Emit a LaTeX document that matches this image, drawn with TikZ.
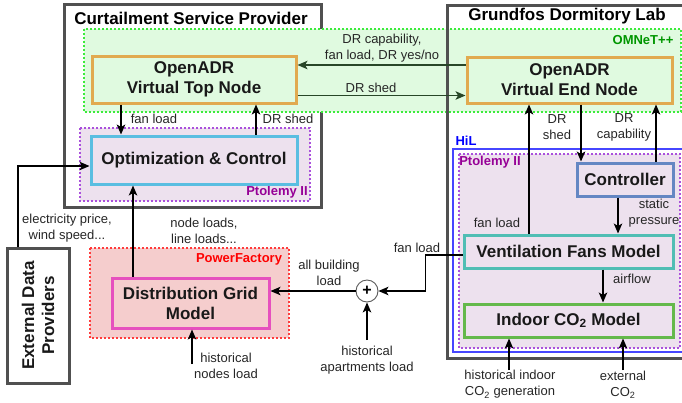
\documentclass[tikz,border=0pt]{standalone}
\usepackage{fontspec}
\setmainfont{Liberation Sans}
\usetikzlibrary{arrows.meta}

\definecolor{omnetfill}{RGB}{224,250,224}
\definecolor{omnetline}{RGB}{60,235,60}
\definecolor{omnettext}{RGB}{0,150,0}
\definecolor{omnetarrow}{RGB}{40,70,40}
\definecolor{adrline}{RGB}{225,170,80}
\definecolor{ptolfill}{RGB}{237,225,238}
\definecolor{ptolline}{RGB}{170,80,220}
\definecolor{ptoltext}{RGB}{150,0,150}
\definecolor{optline}{RGB}{90,190,225}
\definecolor{pffill}{RGB}{245,205,205}
\definecolor{pfline}{RGB}{255,60,60}
\definecolor{gridline}{RGB}{230,80,190}
\definecolor{hilline}{RGB}{70,70,255}
\definecolor{ctrlline}{RGB}{100,135,195}
\definecolor{fanline}{RGB}{80,190,180}
\definecolor{coline}{RGB}{100,185,75}
\definecolor{frame}{RGB}{80,80,80}

\begin{document}
\begin{tikzpicture}[x=1pt,y=-1pt,>={Stealth[length=10pt,width=8.5pt,inset=2.5pt]}]
  \tikzstyle{outerbox}=[draw=frame,line width=3pt]
  \tikzstyle{region}=[line width=2pt,dash pattern=on 2pt off 2pt]
  \tikzstyle{block}=[rectangle,line width=3pt,align=center,inner sep=0pt,text=black!90,font=\fontsize{17}{20}\selectfont\bfseries]
  \tikzstyle{header}=[font=\fontsize{17}{20}\selectfont\bfseries]
  \tikzstyle{toolname}=[font=\fontsize{13}{16}\selectfont\bfseries]
  \tikzstyle{note}=[align=center,inner sep=0pt,text=black!85,font=\fontsize{13}{16}\selectfont]
  \tikzstyle{conn}=[draw,->,line width=1.2pt]
  \useasboundingbox (0,0) rectangle (682,402);
  \clip (0,0) rectangle (682,402);
  % frames and tool layers
  \draw[outerbox] (64,4) rectangle (321,207);
  \draw[region,draw=omnetline,fill=omnetfill] (84,29) rectangle (681,112);
  \draw[outerbox] (447,5) rectangle (700,358);
  \draw[region,draw=ptolline,fill=ptolfill] (80,128) rectangle (310,201);
  \draw[region,draw=pfline,fill=pffill] (90,248) rectangle (289,338);
  \draw[draw=hilline,line width=2pt] (453,149) rectangle (700,352);
  \draw[region,draw=ptolline,fill=ptolfill] (459,154) rectangle (680,348);
  % headers
  \node[header] (csp) at (191,18) {Curtailment Service Provider};
  \node[header] (lab) at (567,16) {Grundfos Dormitory Lab};
  \node[toolname,text=omnettext] (omnet) at (643,40) {OMNeT++};
  \node[toolname,text=ptoltext] (ptolcsp) at (277,192) {Ptolemy II};
  \node[toolname,text=red] (pf) at (239,259) {PowerFactory};
  \node[toolname,text=blue] (hil) at (466,141) {HiL};
  \node[toolname,text=ptoltext] (ptollab) at (490,162) {Ptolemy II};
  % blocks
  \node[block,draw=adrline,fill=omnetfill,minimum width=204pt,minimum height=47pt] (top) at (194,79.5) {OpenADR\\Virtual Top Node};
  \node[block,draw=adrline,fill=omnetfill,minimum width=205pt,minimum height=46pt] (end) at (569.5,80) {OpenADR\\Virtual End Node};
  \node[block,draw=optline,fill=ptolfill,minimum width=206pt,minimum height=48pt] (opt) at (194,160) {Optimization \& Control};
  \node[block,draw=frame,fill=white,rotate=90,minimum width=135pt,minimum height=62pt] (ext) at (38,315.5) {External Data\\Providers};
  \node[block,draw=gridline,fill=pffill,minimum width=157pt,minimum height=50pt] (grid) at (190.5,303) {Distribution Grid\\Model};
  \node[circle,draw=black!65,line width=0.9pt,minimum size=22pt,inner sep=0pt,font=\fontsize{16}{16}\selectfont\bfseries] (sum) at (367,291) {+};
  \node[block,draw=ctrlline,fill=ptolfill,minimum width=96pt,minimum height=33pt] (ctrl) at (625,179.5) {Controller};
  \node[block,draw=fanline,fill=ptolfill,minimum width=209pt,minimum height=33pt] (fans) at (568.5,251.5) {Ventilation Fans Model};
  \node[block,draw=coline,fill=ptolfill,minimum width=209pt,minimum height=33pt] (indoor) at (568.5,320.5) {Indoor CO\textsubscript{2} Model};
  % labels
  \node[note] (capnote) at (382,48) {DR capability,\\fan load, DR yes/no};
  \node[note] (shednote) at (371,88) {DR shed};
  \node[note] (fannote) at (154,119) {fan load};
  \node[note] (drnote) at (288,119) {DR shed};
  \node[note] (pricenote) at (67,228) {electricity price,\\wind speed...};
  \node[note] (loadsnote) at (204,231) {node loads,\\line loads...};
  \node[note] (nodesnote) at (226,366) {historical\\nodes load};
  \node[note] (bldgnote) at (329,273) {all building\\load};
  \node[note] (fanlabnote) at (417,248) {fan load};
  \node[note] (aptnote) at (367,360) {historical\\apartments load};
  \node[note] (fanupnote) at (497,223) {fan load};
  \node[note] (shedlabnote) at (557,127) {DR\\shed};
  \node[note] (capabnote) at (624,127) {DR\\capability};
  \node[note] (pressnote) at (654,213) {static\\pressure};
  \node[note] (airnote) at (632,279) {airflow};
  \node[note] (gennote) at (510,384.5) {historical indoor\\CO\textsubscript{2} generation};
  \node[note] (extconote) at (623,384.5) {external\\CO\textsubscript{2}};
  % free ends
  \coordinate (nodesin) at (192,364);
  \coordinate (aptin) at (367,340);
  \coordinate (genin) at (509,370);
  \coordinate (extcoin) at (623,370);
  % connectors
  \draw[conn,draw=omnetarrow] ([yshift=15pt]end.west) -- ([yshift=15pt]end.west -| top.east);
  \draw[conn,draw=omnetarrow] ([yshift=-16pt]top.east) -- ([yshift=-16pt]top.east -| end.west);
  \draw[conn] ([xshift=-73pt]top.south) -- ([xshift=-73pt]top.south |- opt.north);
  \draw[conn] ([xshift=62pt]opt.north) -- ([xshift=62pt]opt.north |- top.south);
  \draw[conn] ([xshift=-20pt]ext.east) |- ([yshift=-6pt]opt.west);
  \draw[conn] ([xshift=-57.5pt]grid.north) -- ([xshift=-57.5pt]grid.north |- opt.south);
  \draw[conn] (nodesin) -- (nodesin |- grid.south);
  \draw[conn] (sum.west) -- (sum.west -| grid.east);
  \draw[conn] ([yshift=-3.5pt]fans.west) -- ++(-37pt,0) |- (sum.east);
  \draw[conn] (aptin) -- (sum.south);
  \draw[conn] ([xshift=-39.5pt]fans.north) -- ([xshift=-39.5pt]fans.north |- end.south);
  \draw[conn] ([xshift=11.5pt]end.south) -- ([xshift=11.5pt]end.south |- ctrl.north);
  \draw[conn] ([xshift=31pt]ctrl.north) -- ([xshift=31pt]ctrl.north |- end.south);
  \draw[conn] ([xshift=-7pt]ctrl.south) -- ([xshift=-7pt]ctrl.south |- fans.north);
  \draw[conn] ([xshift=34.5pt]fans.south) -- ([xshift=34.5pt]fans.south |- indoor.north);
  \draw[conn] (genin) -- (genin |- indoor.south);
  \draw[conn] (extcoin) -- (extcoin |- indoor.south);
\end{tikzpicture}
\end{document}
